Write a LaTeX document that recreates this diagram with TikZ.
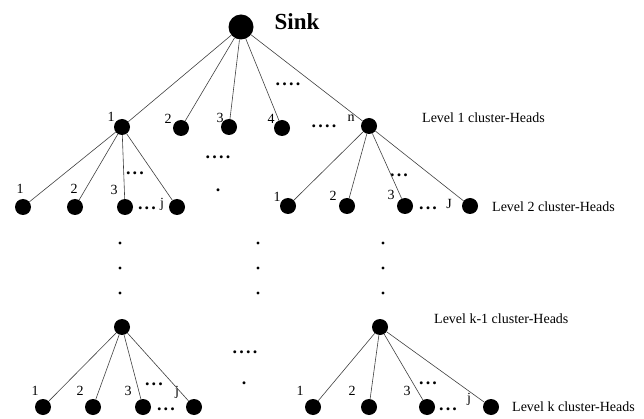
\documentclass[tikz,border=0pt]{standalone}
\usepackage{fontspec}
\setmainfont{Liberation Serif}

% spaced dots for the "and so on" marks
\newcommand{\sdots}{.\kern2.2pt.\kern2.2pt.}
\newcommand{\qdots}{.\kern2.2pt.\kern2.2pt.\kern2.2pt.}

\begin{document}
\begin{tikzpicture}[x=1pt,y=-1pt,
  ch/.style={circle,fill=black,inner sep=0pt,minimum size=16pt},
  link/.style={draw=black!75,line width=0.6pt},
  num/.style={font=\fontsize{14}{14}\selectfont,inner sep=0pt},
  lvl/.style={font=\fontsize{14}{14}\selectfont,anchor=west,inner sep=0pt},
  dts/.style={font=\fontsize{18}{18}\selectfont\bfseries,anchor=base,inner sep=0pt}]
\useasboundingbox (0,0) rectangle (644,419);

% sink
\node[ch,minimum size=25pt] (S) at (241,27) {};
\node[font=\fontsize{23}{23}\selectfont\bfseries,inner sep=0pt] (sink) at (297,22) {Sink};

% level 1
\node[ch] (a1) at (122,127) {};
\node[ch] (a2) at (181,128) {};
\node[ch] (a3) at (229,127) {};
\node[ch] (a4) at (282,128) {};
\node[ch] (an) at (369,126) {};
\node[num] (la1) at (111,117) {1};
\node[num] (la2) at (168,119) {2};
\node[num] (la3) at (220,118) {3};
\node[num] (la4) at (271,119) {4};
\node[num] (lan) at (351,118) {n};
\node[dts] (d0) at (288,86) {\qdots};
\node[dts] (d1) at (324,128) {\qdots};
\node[lvl] (t1) at (422,118) {Level 1 cluster-Heads};

\draw[link] (S) -- (a1);
\draw[link] (S) -- (a2);
\draw[link] (S) -- (a3);
\draw[link] (S) -- (a4);
\draw[link] (S) -- (an);

% level 2, under head 1
\node[ch] (b1) at (23,207) {};
\node[ch] (b2) at (75,207) {};
\node[ch] (b3) at (125,207) {};
\node[ch] (bj) at (177,207) {};
\node[num] (lb1) at (20,189) {1};
\node[num] (lb2) at (74,189) {2};
\node[num] (lb3) at (114,190) {3};
\node[num] (lbj) at (162,204) {j};
\node[dts] (d2) at (135,175) {\sdots};
\node[dts] (d3) at (147,210) {\sdots};

\foreach \c in {b1,b2,b3,bj}
  \draw[link] (a1) -- (\c);

% level 2, under head n
\node[ch] (c1) at (288,206) {};
\node[ch] (c2) at (347,206) {};
\node[ch] (c3) at (405,206) {};
\node[ch] (cj) at (470,206) {};
\node[num] (lc1) at (277,197) {1};
\node[num] (lc2) at (333,196) {2};
\node[num] (lc3) at (391,195) {3};
\node[num] (lcj) at (449,204) {J};
\node[dts] (d4) at (399,177) {\sdots};
\node[dts] (d5) at (428,210) {\sdots};
\node[lvl] (t2) at (492,207) {Level 2 cluster-Heads};

\foreach \c in {c1,c2,c3,cj}
  \draw[link] (an) -- (\c);

% gap between level 2 and level k-1
\node[dts] (d6) at (218,159) {\qdots};
\node[dts] (d7) at (218,192) {.};
\foreach \x in {120,258,383}
  \foreach \y in {243,268,293}
    \fill (\x,\y) circle (1.7);

% level k-1
\node[ch] (h1) at (122,327) {};
\node[ch] (h2) at (380,327) {};
\node[lvl] (t3) at (434,319) {Level k-1 cluster-Heads};
\node[dts] (d8) at (245,353) {\qdots};
\node[dts] (d9) at (244,384) {.};

% level k, under the left head
\node[ch] (f1) at (43,407) {};
\node[ch] (f2) at (93,407) {};
\node[ch] (f3) at (143,407) {};
\node[ch] (fj) at (194,407) {};
\node[num] (lf1) at (35,391) {1};
\node[num] (lf2) at (80,391) {2};
\node[num] (lf3) at (128,391) {3};
\node[num] (lfj) at (177,392) {j};
\node[dts] (d10) at (154,385) {\sdots};
\node[dts] (d11) at (166,410) {\sdots};

\foreach \c in {f1,f2,f3,fj}
  \draw[link] (h1) -- (\c);

% level k, under the right head
\node[ch] (g1) at (313,407) {};
\node[ch] (g2) at (369,407) {};
\node[ch] (g3) at (427,407) {};
\node[ch] (gj) at (491,407) {};
\node[num] (lg1) at (300,391) {1};
\node[num] (lg2) at (352,391) {2};
\node[num] (lg3) at (407,391) {3};
\node[num] (lgj) at (469,399) {j};
\node[dts] (d12) at (428,384) {\sdots};
\node[dts] (d13) at (448,410) {\sdots};
\node[lvl] (t4) at (512,407) {Level k cluster-Heads};

\foreach \c in {g1,g2,g3,gj}
  \draw[link] (h2) -- (\c);
\end{tikzpicture}
\end{document}
